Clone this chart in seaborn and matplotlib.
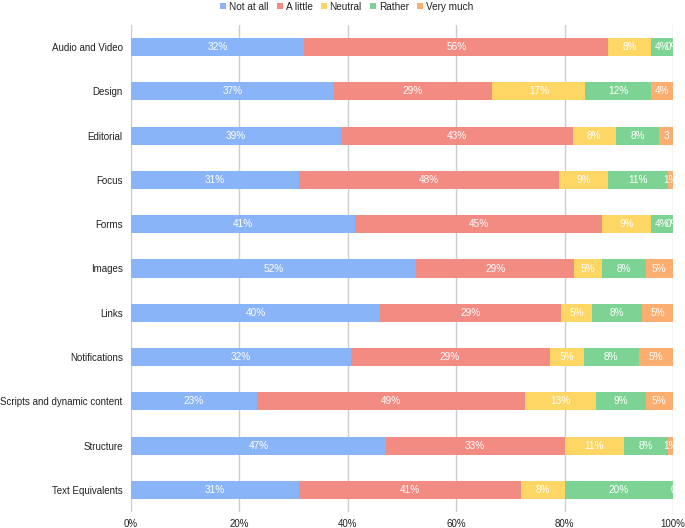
import matplotlib
matplotlib.use("Agg")
import matplotlib.pyplot as plt
from matplotlib.patches import Patch
import numpy as np
import seaborn as sns

topics = ["Audio and Video", "Design", "Editorial", "Focus", "Forms", "Images",
          "Links", "Notifications", "Scripts and dynamic content", "Structure",
          "Text Equivalents"]
series = ["Not at all", "A little", "Neutral", "Rather", "Very much"]

# raw answer shares (%) as printed on the segments
not_at_all = [32, 37, 39, 31, 41, 52, 40, 32, 23, 47, 31]
a_little = [56, 29, 43, 48, 45, 29, 29, 29, 49, 33, 41]
neutral = [8, 17, 8, 9, 9, 5, 5, 5, 13, 11, 8]
rather = [4, 12, 8, 11, 4, 8, 8, 8, 9, 8, 20]
very_much = [0, 4, 2.6, 1, 0, 5, 5, 5, 5, 1, 0]

# labels that got cut short in the original chart
short_labels = {("Editorial", "Very much"): "3",
                ("Text Equivalents", "Very much"): "0"}

colors = ["#8AB4F8", "#F28B82", "#FDD663", "#7DD394", "#FCAD70"]

sns.set_theme(style="white")
plt.rcParams["font.family"] = ["Liberation Sans", "DejaVu Sans"]

raw = np.array([not_at_all, a_little, neutral, rather, very_much], dtype=float)
share = raw / raw.sum(axis=0) * 100
cum = np.cumsum(share, axis=0)

fig = plt.figure(figsize=(6.85, 5.28), dpi=100)
ax = fig.add_axes([131 / 685, 1 - 512 / 528, 542 / 685, 487 / 528])

# stacked bars: draw cumulative totals from the longest to the shortest
for k in range(len(series) - 1, -1, -1):
    sns.barplot(x=cum[k], y=topics, orient="h", color=colors[k], width=0.41,
                saturation=1, linewidth=0, ax=ax, zorder=2)

for i, t in enumerate(topics):
    for k, s in enumerate(series):
        left = cum[k][i] - share[k][i]
        mid = left + share[k][i] / 2
        txt = short_labels.get((t, s), f"{round(raw[k][i])}%")
        ax.text(mid, i, txt, ha="center", va="center", color="white",
                fontsize=7.2, zorder=3)

ax.set_xlim(0, 100)
ax.set_ylim(len(topics) - 0.5, -0.5)
ax.set_xticks([0, 20, 40, 60, 80, 100])
ax.set_xticklabels(["0%", "20%", "40%", "60%", "80%", "100%"])
ax.grid(axis="x", color="#cccccc", linewidth=1, zorder=0)
ax.set_axisbelow(True)
for sp in ax.spines.values():
    sp.set_visible(False)
ax.tick_params(axis="both", length=0, labelsize=7.0, colors="#222222")
ax.tick_params(axis="y", pad=6)
ax.tick_params(axis="x", pad=5)
ax.set_xlabel("")
ax.set_ylabel("")

handles = [Patch(facecolor=c, edgecolor="none") for c in colors]
fig.legend(handles, series, loc="upper center", bbox_to_anchor=(0.506, 1.014),
           ncol=5, frameon=False, fontsize=7.2, handlelength=0.6,
           handleheight=0.6, handletextpad=0.3, columnspacing=0.8,
           labelcolor="#222222")

fig.savefig("out.png", dpi=100)
